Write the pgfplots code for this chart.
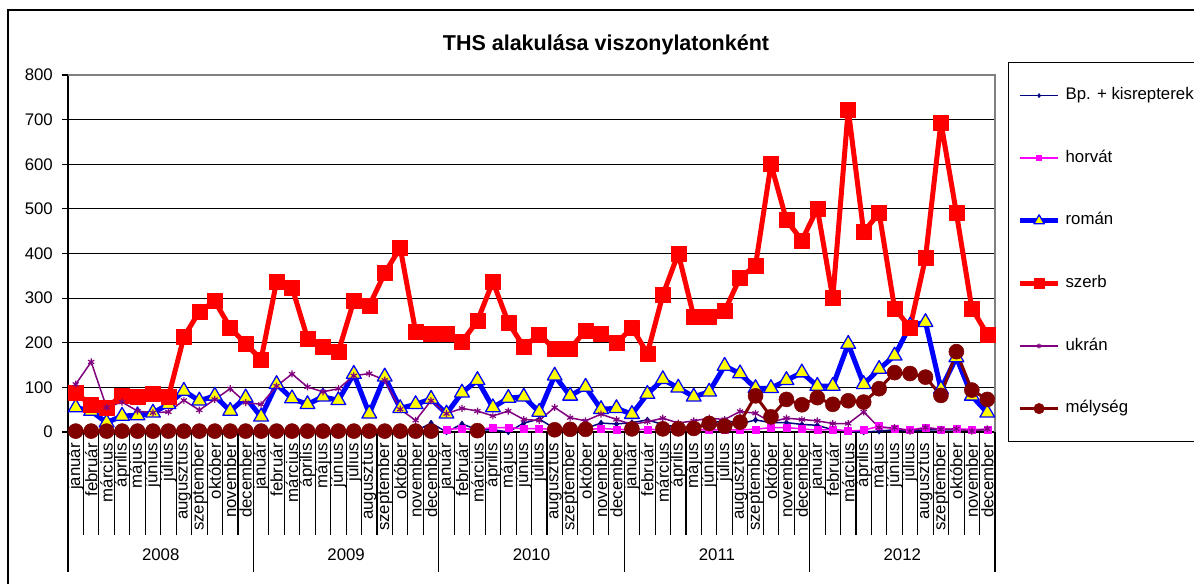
\documentclass[border=0pt]{standalone}
\usepackage{fontspec}
\setmainfont{Liberation Sans}
\usepackage{pgfplots}
\pgfplotsset{compat=1.18}
\usepackage{pgfplotstable}

\pgfplotstableread{
x bp hv ro sz uk me
0 2 nan 55 88 107 2
1 2 nan 47 60 157 2
2 2 nan 21 55 55 2
3 2 nan 36 82 67 2
4 2 nan 37 79 47 2
5 2 nan 43 85 43 2
6 2 nan 62 79 45 2
7 2 nan 92 213 71 2
8 2 nan 70 270 49 2
9 2 nan 81 293 73 2
10 2 nan 47 234 97 2
11 2 nan 77 197 66 2
12 2 nan 34 163 62 2
13 2 nan 107 337 103 2
14 2 nan 75 324 130 2
15 2 nan 62 210 101 2
16 2 nan 79 191 90 2
17 2 nan 71 180 97 2
18 2 nan 130 294 126 2
19 2 nan 41 283 131 2
20 2 nan 124 356 116 2
21 2 nan 53 413 51 2
22 2 nan 62 225 26 2
23 20 nan 74 220 70 2
24 0 6 41 220 41 nan
25 18 8 88 202 53 nan
26 5 5 116 249 47 3
27 5 10 55 337 36 nan
28 0 10 76 245 47 nan
29 20 7 79 191 28 nan
30 29 8 45 218 26 nan
31 8 5 126 186 55 5
32 8 5 81 186 32 6
33 8 5 101 228 25 6
34 20 8 51 220 40 nan
35 18 6 53 199 28 nan
36 21 5 40 234 17 7
37 27 6 85 176 23 nan
38 17 5 118 307 31 7
39 10 5 99 400 20 7
40 12 5 79 259 25 8
41 18 5 90 259 31 19
42 27 5 148 271 28 13
43 18 5 131 346 46 22
44 27 6 98 373 42 81
45 21 10 98 600 22 34
46 21 10 116 475 31 73
47 17 7 133 429 28 61
48 15 4 103 501 25 77
49 5 6 103 300 19 62
50 2 2 197 723 19 70
51 0 4 107 448 45 67
52 2 13 141 491 10 97
53 5 7 171 277 10 133
54 2 5 238 234 2 131
55 5 10 246 390 10 123
56 5 6 96 694 6 82
57 5 7 167 491 7 180
58 5 6 81 277 2 94
59 5 6 43 219 7 73
}\data

\definecolor{bpc}{RGB}{0,0,128}
\definecolor{hvc}{RGB}{255,0,255}
\definecolor{roc}{RGB}{0,0,255}
\definecolor{ror}{RGB}{255,255,0}
\definecolor{szc}{RGB}{255,0,0}
\definecolor{ukc}{RGB}{128,0,128}
\definecolor{mec}{RGB}{128,0,0}
\definecolor{frame}{RGB}{128,128,128}

\newcommand\fs{\fontsize{16.8bp}{19bp}\selectfont}

\begin{document}
\begin{tikzpicture}[x=1bp,y=1bp]
\path[use as bounding box, clip] (-68,-152) rectangle (1126,432);
\fill[white] (-68,-152) rectangle (1126,432);
\draw[black, line width=2bp] (-60,-170) -- (-60,422) -- (1140,422);
\begin{axis}[
  at={(0,0)}, anchor=south west,
  scale only axis, width=927bp, height=357bp,
  xmin=-0.5, xmax=59.5, ymin=0, ymax=800,
  axis lines=left,
  axis line style={black, line width=1.2bp, -},
  ytick={0,100,...,800},
  tick align=outside, major tick length=6bp,
  tick style={black, line width=1.1bp},
  ymajorgrids, grid style={black, line width=1.1bp},
  xtick={0,...,59},
  xticklabels={január,február,március,április,május,június,július,augusztus,szeptember,október,november,december,január,február,március,április,május,június,július,augusztus,szeptember,október,november,december,január,február,március,április,május,június,július,augusztus,szeptember,október,november,december,január,február,március,április,május,június,július,augusztus,szeptember,október,november,december,január,február,március,április,május,június,július,augusztus,szeptember,október,november,december},
  xtick style={draw=none},
  xticklabel style={rotate=90, anchor=east, inner sep=0pt, font=\fs},
  xticklabel shift=5bp,
  yticklabel style={font=\fs, inner sep=0pt, anchor=east},
  yticklabel shift=9bp,
  /pgf/number format/assume math mode=true,
  clip=false,
  unbounded coords=jump,
  every axis plot/.append style={line join=round},
  legend style={at={(1.014,1.0364)}, anchor=north west, draw=black, line width=1.2bp, fill=white,
    inner xsep=9bp, inner ysep=25bp, font=\fs, row sep=46.6bp,
    nodes={inner sep=0pt, text height=12bp, text depth=4bp},
    /tikz/every odd column/.append style={column sep=5bp}},
  legend cell align=left,
  legend image code/.code={\draw[mark repeat=2, mark phase=2, mark size=0.7*\pgfplotmarksize] plot coordinates {(0bp,0bp) (19bp,0bp) (38bp,0bp)};},
]
\draw[frame, line width=1.5bp] (rel axis cs:0,1) -- (rel axis cs:1,1) -- (rel axis cs:1,0);
\pgfplotsinvokeforeach{0.5,1.5,...,58.5}{\draw[black, line width=1.1bp] (axis cs:#1,0) -- ++(0pt,-103bp);}
\pgfplotsinvokeforeach{-0.5,11.5,23.5,35.5,47.5,59.5}{\draw[black, line width=1.1bp] (axis cs:#1,0) -- ++(0pt,-140bp);}
\node[font=\fs] at ([yshift=-123bp]axis cs:5.5,0) {2008};
\node[font=\fs] at ([yshift=-123bp]axis cs:17.5,0) {2009};
\node[font=\fs] at ([yshift=-123bp]axis cs:29.5,0) {2010};
\node[font=\fs] at ([yshift=-123bp]axis cs:41.5,0) {2011};
\node[font=\fs] at ([yshift=-123bp]axis cs:53.5,0) {2012};

\addplot[color=bpc, line width=1.5bp, mark=diamond*, mark size=3bp, mark options={fill=bpc, line width=0.5bp}] table[x=x,y=bp]{\data};
\addlegendentry{Bp. + kisrepterek}
\addplot[color=hvc, line width=1.5bp, mark=square*, mark size=3.5bp, mark options={fill=hvc, line width=0.5bp}] table[x=x,y=hv]{\data};
\addlegendentry{horvát}
\addplot[color=roc, line width=5bp, mark=triangle*, mark size=8.5bp, mark options={fill=ror, draw=roc, line width=1.3bp}] table[x=x,y=ro]{\data};
\addlegendentry{román}
\addplot[color=szc, line width=5bp, mark=square*, mark size=7.5bp, mark options={fill=szc, line width=0.5bp}] table[x=x,y=sz]{\data};
\addlegendentry{szerb}
\addplot[color=ukc, line width=1.5bp, mark=asterisk, mark size=3.5bp, mark options={line width=1.2bp}] table[x=x,y=uk]{\data};
\addlegendentry{ukrán}
\addplot[color=mec, line width=3bp, mark=*, mark size=7.5bp, mark options={fill=mec, line width=0.5bp}] table[x=x,y=me]{\data};
\addlegendentry{mélység}
\end{axis}
\node[font=\bfseries\fontsize{21.5bp}{25bp}\selectfont] at (538,387) {THS alakulása viszonylatonként};
\end{tikzpicture}
\end{document}
